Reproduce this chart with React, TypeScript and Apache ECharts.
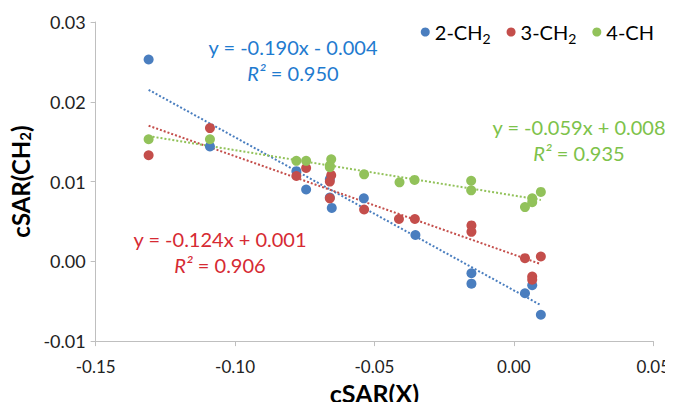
import React, { useEffect, useRef } from "react";
import * as echarts from "echarts";

const seriesNames = ["2-CH2", "3-CH2", "4-CH"];

const blueX = [-0.131, -0.109, -0.078, -0.0745, -0.066, -0.066, -0.0653, -0.0538, -0.0353, -0.0152, -0.0152, 0.004, 0.0066, 0.0097];
const blueY = [0.0253, 0.0144, 0.0113, 0.009, 0.0103, 0.008, 0.0067, 0.0079, 0.0033, -0.0015, -0.0028, -0.004, -0.003, -0.0067];

const redX = [-0.131, -0.109, -0.078, -0.0745, -0.066, -0.0655, -0.066, -0.0537, -0.0412, -0.0355, -0.0152, -0.0152, 0.004, 0.0097, 0.0066, 0.0066];
const redY = [0.0133, 0.0167, 0.0107, 0.0117, 0.01, 0.0108, 0.0079, 0.0065, 0.0053, 0.0053, 0.0045, 0.0037, 0.0004, 0.0006, -0.0019, -0.0023];

const greenX = [-0.131, -0.109, -0.078, -0.0745, -0.066, -0.0655, -0.066, -0.0537, -0.041, -0.0356, -0.0153, -0.0153, 0.004, 0.0066, 0.0066, 0.0097];
const greenY = [0.0153, 0.0153, 0.0126, 0.0126, 0.012, 0.0128, 0.0118, 0.0109, 0.0099, 0.0102, 0.0101, 0.0089, 0.0068, 0.0079, 0.0074, 0.0087];

const trendX = [-0.131, 0.0097];
const blueTrend = [0.0215, -0.0055];
const redTrend = [0.017, -0.00035];
const greenTrend = [0.0157, 0.0077];

const equations = ["y = -0.190x - 0.004", "y = -0.124x + 0.001", "y = -0.059x + 0.008"];
const r2Values = ["0.950", "0.906", "0.935"];

const pointColors = ["#4a7ebf", "#c44e4b", "#92c25a"];
const textColors = ["#1f7bcf", "#d62a33", "#7dc24a"];

const FONT = "Lato";

const zip = (xs: number[], ys: number[]) => xs.map((x, i) => [x, ys[i]]);

export default function App() {
  const ref = useRef<HTMLDivElement>(null);
  useEffect(() => {
    if (!ref.current) return;
    const chart = echarts.init(ref.current, undefined, { renderer: "svg" });
    const scatterData = [zip(blueX, blueY), zip(redX, redY), zip(greenX, greenY)];
    const trendData = [zip(trendX, blueTrend), zip(trendX, redTrend), zip(trendX, greenTrend)];
    const eqPos = [
      { x: 293, y1: 47, y2: 73 },
      { x: 220, y1: 239, y2: 265 },
      { x: 579, y1: 127, y2: 153 },
    ];
    const option: any = {
      animation: false,
      grid: { left: 93, right: 19, top: 22, bottom: 66, containLabel: false },
      xAxis: {
        type: "value",
        min: -0.15,
        max: 0.05,
        interval: 0.05,
        name: "cSAR(X)",
        nameLocation: "middle",
        nameGap: 37,
        nameTextStyle: { fontFamily: FONT, fontWeight: "bold", fontSize: 25, color: "#000" },
        axisLine: { onZero: false, lineStyle: { color: "#bfbfbf", width: 1 } },
        axisTick: { show: true, length: 5, lineStyle: { color: "#bfbfbf" } },
        splitLine: { show: false },
        axisLabel: {
          fontFamily: FONT,
          fontSize: 17,
          color: "#222",
          margin: 17,
          formatter: (v: number) => v.toFixed(2),
        },
      },
      yAxis: {
        type: "value",
        min: -0.01,
        max: 0.03,
        interval: 0.01,
        name: "cSAR(CH{sub|2})",
        nameLocation: "middle",
        nameGap: 63,
        nameTextStyle: {
          fontFamily: FONT,
          fontWeight: "bold",
          fontSize: 24,
          color: "#000",
          rich: {
            sub: { fontFamily: FONT, fontWeight: "bold", fontSize: 15, color: "#000", verticalAlign: "bottom", padding: [10, 0, 0, 0] },
          },
        },
        axisLine: { show: true, onZero: false, lineStyle: { color: "#bfbfbf", width: 1 } },
        axisTick: { show: true, length: 5, lineStyle: { color: "#bfbfbf" } },
        splitLine: { show: false },
        axisLabel: {
          fontFamily: FONT,
          fontSize: 18,
          color: "#222",
          margin: 10,
          formatter: (v: number) => v.toFixed(2),
        },
      },
      legend: {
        data: seriesNames,
        top: 17,
        right: 14,
        icon: "circle",
        itemWidth: 9,
        itemHeight: 9,
        itemGap: 16,
        formatter: (n: string) => n.replace("CH2", "CH{sub|2}"),
        textStyle: {
          fontFamily: FONT,
          fontSize: 20,
          color: "#000",
          rich: {
            sub: { fontFamily: FONT, fontSize: 14, color: "#000", padding: [12, 0, 0, 0] },
          },
        },
      },
      series: [
        ...trendData.map((d, i) => ({
          type: "line",
          name: "trend" + i,
          data: d,
          symbol: "none",
          silent: true,
          z: 1,
          lineStyle: { color: pointColors[i], width: 2, type: [2, 2] },
        })),
        ...scatterData.map((d, i) => ({
          type: "scatter",
          name: seriesNames[i],
          data: d,
          symbol: "circle",
          symbolSize: 10,
          z: 2,
          itemStyle: { color: pointColors[i], opacity: 1 },
        })),
      ],
      graphic: equations.flatMap((eq, i) => [
        {
          type: "text",
          x: eqPos[i].x,
          y: eqPos[i].y1,
          style: {
            text: eq,
            fill: textColors[i],
            fontFamily: FONT,
            fontSize: 20,
            align: "center",
            verticalAlign: "middle",
          },
        },
        {
          type: "text",
          x: eqPos[i].x,
          y: eqPos[i].y2,
          style: {
            text: "{i|R²} = " + r2Values[i],
            fill: textColors[i],
            fontFamily: FONT,
            fontSize: 20,
            align: "center",
            verticalAlign: "middle",
            rich: {
              i: { fontFamily: FONT, fontStyle: "italic", fontSize: 20, fill: textColors[i] },
            },
          },
        },
      ]),
    };
    chart.setOption(option);
    return () => chart.dispose();
  }, []);
  return <div ref={ref} style={{ width: 673, height: 410, margin: -8 }} />;
}
